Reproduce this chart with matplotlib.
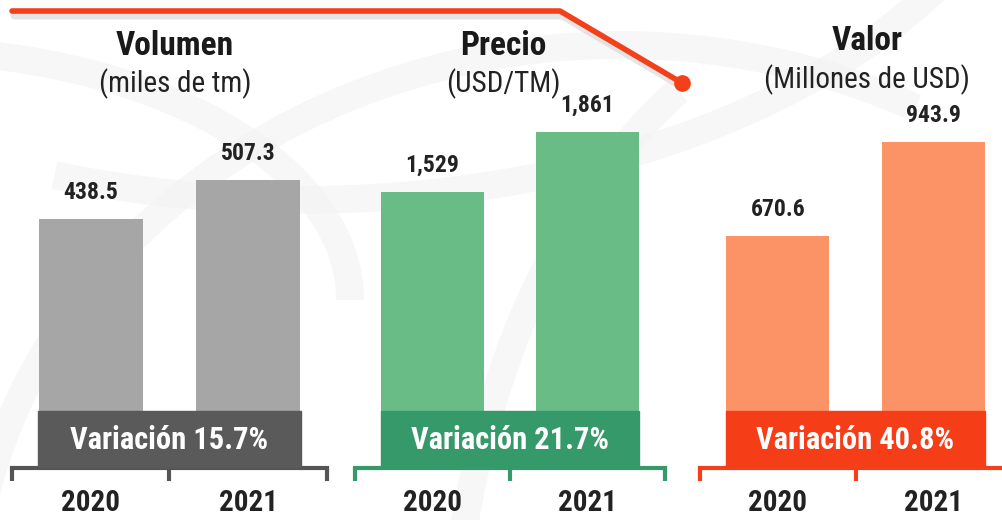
import matplotlib
matplotlib.use("Agg")
import matplotlib.pyplot as plt
from matplotlib.patches import Rectangle, Arc
import matplotlib.transforms as mtransforms

# fuentes: preferimos una condensada si existe
plt.rcParams['font.family'] = ['Roboto Condensed', 'Liberation Sans Narrow', 'DejaVu Sans Condensed', 'Liberation Sans', 'DejaVu Sans']

# Datos
anios = ['2020', '2021']
volumen = [438.5, 507.3]
precio = [1529, 1861]
valor = [670.6, 943.9]
etiquetas_volumen = ['438.5', '507.3']
etiquetas_precio = ['1,529', '1,861']
etiquetas_valor = ['670.6', '943.9']
variaciones = ['Variación 15.7%', 'Variación 21.7%', 'Variación 40.8%']
titulos = ['Volumen', 'Precio', 'Valor']
subtitulos = ['(miles de tm)', '(USD/TM)', '(Millones de USD)']

W, H = 1002, 520
fig = plt.figure(figsize=(W / 100, H / 100), dpi=100)
fig.patch.set_facecolor('white')

# fondo con arcos suaves (marca de agua)
bg = fig.add_axes([0, 0, 1, 1], zorder=0)
bg.set_xlim(0, W)
bg.set_ylim(H, 0)
bg.axis('off')
for (cx, cy, w, h, t1, t2) in [(620, 620, 1300, 1150, 185, 300),
                               (300, -250, 1500, 900, 20, 120),
                               (900, 700, 900, 1400, 190, 250),
                               (-100, 300, 900, 500, 280, 360)]:
    bg.add_patch(Arc((cx, cy), w, h, theta1=t1, theta2=t2, color='#F2F2F2', lw=20, alpha=0.6))

# linea roja superior con sombra
lx = [12, 560, 682]
ly = [11, 11, 83]
bg.plot([x + 2 for x in lx], [y + 5 for y in ly], color='#D5D5D5', lw=5, alpha=0.6, solid_capstyle='round')
bg.plot(lx, ly, color='#F2401B', lw=4, solid_capstyle='round')
bg.plot([lx[-1]], [ly[-1]], 'o', color='#F2401B', ms=11)

# paneles: (x0, x1 en px, ylim superior, colores)
paneles = [
    (12, 327, 824, volumen, etiquetas_volumen, '#A6A6A6', '#5A5A5A', '#555555', (175, 46, 84)),
    (355, 665, 2593, precio, etiquetas_precio, '#69BC86', '#35996A', '#35996A', (503, 46, 84)),
    (700, 1011, 1355, valor, etiquetas_valor, '#FC9366', '#F53D17', '#F2401B', (867, 41, 80)),
]

base_px = 468
for i, (x0, x1, ytop, vals, etqs, c_bar, c_ban, c_eje, (tx, ty1, ty2)) in enumerate(paneles):
    ax = fig.add_axes([x0 / W, (H - base_px) / H, (x1 - x0) / W, base_px / H], zorder=2)
    ax.patch.set_alpha(0)
    ax.set_xlim(-0.5, 1.5)
    ax.set_ylim(0, ytop)
    ax.bar([0, 1], vals, width=0.66, color=c_bar)
    for x, v, t in zip([0, 1], vals, etqs):
        ax.annotate(t, (x, v), xytext=(0, 11), textcoords='offset points',
                    ha='center', va='bottom', fontsize=17, fontweight='bold', color='#222222')
    # banda de variacion
    tr = mtransforms.blended_transform_factory(ax.transData, ax.transAxes)
    ax.add_patch(Rectangle((-0.335, 0), 1.67, 57 / base_px, transform=tr, color=c_ban, zorder=3))
    ax.text(0.5, 28 / base_px, variaciones[i], transform=tr, ha='center', va='center',
            fontsize=22, fontweight='bold', color='white', zorder=4)
    # eje inferior tipo corchete
    for s in ['top', 'right', 'left']:
        ax.spines[s].set_visible(False)
    ax.spines['bottom'].set_color(c_eje)
    ax.spines['bottom'].set_linewidth(3)
    ax.set_yticks([])
    ax.set_xticks([-0.5, 0.5, 1.5])
    ax.set_xticklabels([])
    ax.tick_params(axis='x', direction='out', length=9, width=3, color=c_eje)
    for x, a in zip([0, 1], anios):
        ax.text(x, -35 / base_px, a, transform=tr, ha='center', va='center',
                fontsize=21, fontweight='bold', color='#222222')
    # titulos
    bg.text(tx, ty1, titulos[i], ha='center', va='center', fontsize=24, fontweight='bold', color='#1A1A1A')
    bg.text(tx, ty2, subtitulos[i], ha='center', va='center', fontsize=21, color='#222222')

fig.savefig('out.png', dpi=100)
